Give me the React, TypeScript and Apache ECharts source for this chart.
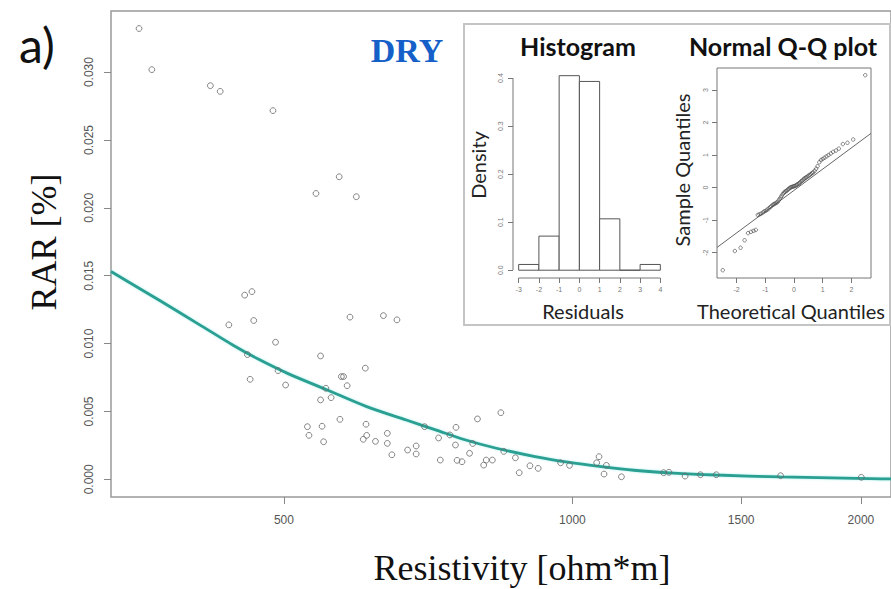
import React, { useEffect, useRef } from "react";
import * as echarts from "echarts";

// ---- main scatter (DRY) ----
const xTicks = [500, 1000, 1500, 2000];
const yTicks = [0, 0.005, 0.01, 0.015, 0.02, 0.025, 0.03];

const resistivity = [
  353, 364, 419, 429, 487, 540, 571, 595, 455, 463,
  438, 465, 490, 458, 493, 461, 502, 546, 586, 635,
  656, 608, 574, 577, 582, 553, 560, 546, 529, 531,
  548, 550, 572, 609, 610, 605, 623, 641, 641, 648,
  673, 687, 687, 701, 725, 728, 745, 756, 755, 758,
  767, 781, 787, 796, 842, 808, 813, 825, 848, 872,
  880, 903, 921, 972, 993, 1066, 1060, 1085, 1079, 1125,
  1245, 1261, 1311, 1360, 1413, 1649, 2002,
];
const rar = [
  0.03321, 0.03018, 0.029, 0.02858, 0.02716, 0.02106, 0.02229, 0.02082, 0.01357, 0.01383,
  0.01138, 0.0117, 0.0101, 0.00919, 0.00801, 0.00737, 0.00695, 0.00909, 0.01195, 0.01206,
  0.01175, 0.00819, 0.00757, 0.00757, 0.0069, 0.00671, 0.00602, 0.00585, 0.00388, 0.00324,
  0.00391, 0.00277, 0.00442, 0.00406, 0.00324, 0.00295, 0.0028, 0.00339, 0.00265, 0.00181,
  0.00216, 0.00246, 0.00187, 0.00388, 0.00305, 0.00142, 0.00327, 0.00383, 0.00253, 0.0014,
  0.0013, 0.00192, 0.00264, 0.00445, 0.00491, 0.00105, 0.00142, 0.00142, 0.00206, 0.00159,
  0.00049, 0.001, 0.00081, 0.00122, 0.00103, 0.00167, 0.00122, 0.00103, 0.00039, 0.00019,
  0.00049, 0.00052, 0.00024, 0.00034, 0.00034, 0.00027, 0.00015,
];

const fitResistivity = [330, 371, 408, 443, 470, 505, 555, 610, 671, 721, 774, 831, 914, 989, 1072, 1159, 1275, 1412, 1648, 2104, 2150];
const fitRar = [0.01531, 0.01317, 0.0114, 0.00986, 0.00886, 0.00779, 0.00658, 0.00536, 0.00437, 0.00363, 0.0029, 0.00231, 0.00168, 0.00127, 0.00094, 0.00067, 0.00046, 0.00032, 0.00018, 0.00004, 0.00003];

// ---- inset histogram ----
const histBinStart = [-3, -2, -1, 0, 1, 2, 3];
const histBinEnd = [-2, -1, 0, 1, 2, 3, 4];
const histDensity = [0.012, 0.071, 0.405, 0.393, 0.107, 0, 0.012];
const histTicksX = [-3, -2, -1, 0, 1, 2, 3, 4];
const histTicksY = [0, 0.1, 0.2, 0.3, 0.4];

// ---- inset Q-Q plot ----
const qqTheoretical = [
  -2.48, -2.06, -1.86, -1.72, -1.6, -1.5, -1.41, -1.33, -1.26, -1.2,
  -1.14, -1.08, -1.03, -0.98, -0.93, -0.88, -0.83, -0.79, -0.74, -0.7,
  -0.66, -0.62, -0.58, -0.54, -0.5, -0.46, -0.43, -0.39, -0.35, -0.32,
  -0.28, -0.25, -0.21, -0.18, -0.14, -0.11, -0.08, -0.04, -0.01, 0.02,
  0.06, 0.09, 0.12, 0.16, 0.19, 0.22, 0.26, 0.29, 0.33, 0.36,
  0.4, 0.43, 0.47, 0.51, 0.55, 0.59, 0.63, 0.67, 0.72, 0.77,
  0.82, 0.88, 0.94, 1.0, 1.06, 1.13, 1.2, 1.28, 1.36, 1.46,
  1.56, 1.7, 1.86, 2.06, 2.48,
];
const qqSample = [
  -2.54, -1.95, -1.85, -1.62, -1.4, -1.36, -1.33, -1.3, -0.84, -0.82,
  -0.8, -0.76, -0.73, -0.71, -0.68, -0.64, -0.6, -0.57, -0.53, -0.51,
  -0.49, -0.47, -0.45, -0.4, -0.35, -0.3, -0.25, -0.2, -0.16, -0.13,
  -0.11, -0.09, -0.06, -0.03, -0.01, 0.01, 0.02, 0.03, 0.04, 0.05,
  0.06, 0.08, 0.1, 0.12, 0.14, 0.17, 0.2, 0.22, 0.25, 0.28,
  0.3, 0.32, 0.34, 0.37, 0.39, 0.42, 0.45, 0.47, 0.52, 0.58,
  0.66, 0.78, 0.85, 0.88, 0.92, 0.96, 1.0, 1.05, 1.1, 1.14,
  1.2, 1.34, 1.38, 1.48, 3.46,
];
const qqLineX = [-2.68, 2.68];
const qqLineY = [-1.84, 1.67];
const qqTicksX = [-2, -1, 0, 1, 2];
const qqTicksY = [-2, -1, 0, 1, 2, 3];

const SANS = "Liberation Sans";
const SERIF = "Liberation Serif";
const INSET = "Lato";

export default function App() {
  const ref = useRef<HTMLDivElement>(null);
  useEffect(() => {
    if (!ref.current) return;
    const chart = echarts.init(ref.current, undefined, { renderer: "svg" });

    const smallLabel = { fontSize: 7, color: "#777", fontFamily: SANS };
    const smallTick = { lineStyle: { color: "#777", width: 1 } };

    const option: any = {
      animation: false,
      backgroundColor: "#fff",
      grid: [
        { left: 111, top: 11, width: 789, height: 486, show: true, borderColor: "#999", borderWidth: 1.5, backgroundColor: "transparent" },
        { left: 513, top: 68, width: 153, height: 210, show: false, z: 10 },
        { left: 717, top: 68, width: 154, height: 210, show: true, borderColor: "#777", borderWidth: 1, backgroundColor: "transparent", z: 10 },
      ],
      xAxis: [
        {
          type: "log", gridIndex: 0, min: 330, max: 2150, logBase: 10,
          axisLine: { show: false, onZero: false },
          axisTick: { show: true, length: 7, customValues: xTicks, lineStyle: { color: "#888" } },
          axisLabel: { customValues: xTicks, margin: 17, fontSize: 12, color: "#555", fontFamily: SANS, formatter: (v: number) => String(Math.round(v)) },
          splitLine: { show: false }, minorTick: { show: false },
        },
        {
          type: "value", gridIndex: 1, min: -3.28, max: 4.28, z: 10,
          axisLine: { show: false, onZero: false },
          axisTick: { show: true, length: 5, customValues: histTicksX, ...smallTick },
          axisLabel: { customValues: histTicksX, margin: 8, ...smallLabel, formatter: (v: number) => String(v) },
          splitLine: { show: false },
        },
        {
          type: "value", gridIndex: 2, min: -2.68, max: 2.68, z: 10,
          axisLine: { show: false, onZero: false },
          axisTick: { show: true, length: 5, customValues: qqTicksX, ...smallTick },
          axisLabel: { customValues: qqTicksX, margin: 8, ...smallLabel, formatter: (v: number) => String(v) },
          splitLine: { show: false },
        },
      ],
      yAxis: [
        {
          type: "value", gridIndex: 0, min: -0.0013, max: 0.0345,
          axisLine: { show: false, onZero: false },
          axisTick: { show: true, length: 7, customValues: yTicks, lineStyle: { color: "#888" } },
          axisLabel: { customValues: yTicks, rotate: 90, margin: 16, fontSize: 12, color: "#555", fontFamily: SANS, formatter: (v: number) => v.toFixed(3) },
          splitLine: { show: false },
        },
        {
          type: "value", gridIndex: 1, min: -0.0162, max: 0.421, z: 10,
          axisLine: { show: false, onZero: false },
          axisTick: { show: true, length: 5, customValues: histTicksY, ...smallTick },
          axisLabel: { customValues: histTicksY, rotate: 90, margin: 9, ...smallLabel, formatter: (v: number) => v.toFixed(1) },
          splitLine: { show: false },
        },
        {
          type: "value", gridIndex: 2, min: -2.78, max: 3.68, z: 10,
          axisLine: { show: false, onZero: false },
          axisTick: { show: true, length: 5, customValues: qqTicksY, ...smallTick },
          axisLabel: { customValues: qqTicksY, rotate: 90, margin: 8, ...smallLabel, formatter: (v: number) => String(v) },
          splitLine: { show: false },
        },
      ],
      series: [
        {
          type: "line", xAxisIndex: 0, yAxisIndex: 0, z: 2, smooth: 0.3, showSymbol: false, silent: true,
          data: fitResistivity.map((x, i) => [x, fitRar[i]]),
          lineStyle: { color: "#2a9f92", width: 2.8, shadowColor: "rgba(80,220,210,0.5)", shadowBlur: 2 },
        },
        {
          type: "scatter", xAxisIndex: 0, yAxisIndex: 0, z: 3, symbol: "circle", symbolSize: 5.8, silent: true,
          data: resistivity.map((x, i) => [x, rar[i]]),
          itemStyle: { color: "rgba(0,0,0,0)", borderColor: "#666", borderWidth: 1 },
        },
        {
          type: "custom", xAxisIndex: 1, yAxisIndex: 1, z: 10, silent: true,
          data: histBinStart.map((s, i) => [s, histBinEnd[i], histDensity[i]]),
          encode: { x: [0, 1], y: 2 },
          renderItem: (params: any, api: any) => {
            const p0 = api.coord([api.value(0), api.value(2)]);
            const p1 = api.coord([api.value(1), 0]);
            return {
              type: "rect",
              shape: { x: p0[0], y: p0[1], width: p1[0] - p0[0], height: p1[1] - p0[1] },
              style: { fill: "#fff", stroke: "#555", lineWidth: 1 },
            };
          },
        },
        {
          type: "line", xAxisIndex: 1, yAxisIndex: 1, z: 10, silent: true, clip: false, showSymbol: false,
          data: [[histTicksX[0], -0.0162], [histTicksX[histTicksX.length - 1], -0.0162]],
          lineStyle: { color: "#777", width: 1 },
        },
        {
          type: "line", xAxisIndex: 1, yAxisIndex: 1, z: 10, silent: true, clip: false, showSymbol: false,
          data: [[-3.28, histTicksY[0]], [-3.28, histTicksY[histTicksY.length - 1]]],
          lineStyle: { color: "#777", width: 1 },
        },
        {
          type: "line", xAxisIndex: 2, yAxisIndex: 2, z: 10, silent: true, showSymbol: false,
          data: qqLineX.map((x, i) => [x, qqLineY[i]]),
          lineStyle: { color: "#666", width: 1 },
        },
        {
          type: "scatter", xAxisIndex: 2, yAxisIndex: 2, z: 11, symbol: "circle", symbolSize: 3.5, silent: true,
          data: qqTheoretical.map((x, i) => [x, qqSample[i]]),
          itemStyle: { color: "rgba(0,0,0,0)", borderColor: "#444", borderWidth: 0.8 },
        },
      ],
      graphic: [
        { type: "rect", z: 5, shape: { x: 464, y: 24, width: 426, height: 301 }, style: { fill: "#fff", stroke: "#c4c4c4", lineWidth: 2 } },
        { type: "text", z: 12, x: 19, y: 44, style: { text: "a)", font: `48px ${INSET}`, fill: "#111", textAlign: "left", textVerticalAlign: "middle" } },
        { type: "text", z: 12, x: 407, y: 50, style: { text: "DRY", font: `bold 34px ${SERIF}`, fill: "#1560c8", textAlign: "center", textVerticalAlign: "middle" } },
        { type: "text", z: 12, x: 44, y: 242, rotation: Math.PI / 2, style: { text: "RAR [%]", font: `36px ${SERIF}`, fill: "#111", textAlign: "center", textVerticalAlign: "middle" } },
        { type: "text", z: 12, x: 522, y: 568, style: { text: "Resistivity [ohm*m]", font: `36px ${SERIF}`, fill: "#111", textAlign: "center", textVerticalAlign: "middle" } },
        { type: "text", z: 12, x: 578, y: 46, style: { text: "Histogram", font: `bold 25px ${INSET}`, fill: "#111", textAlign: "center", textVerticalAlign: "middle" } },
        { type: "text", z: 12, x: 783, y: 46, style: { text: "Normal Q-Q plot", font: `bold 25px ${INSET}`, fill: "#111", textAlign: "center", textVerticalAlign: "middle" } },
        { type: "text", z: 12, x: 478, y: 165, rotation: Math.PI / 2, style: { text: "Density", font: `20px ${INSET}`, fill: "#222", textAlign: "center", textVerticalAlign: "middle" } },
        { type: "text", z: 12, x: 583, y: 311, style: { text: "Residuals", font: `20px ${INSET}`, fill: "#222", textAlign: "center", textVerticalAlign: "middle" } },
        { type: "text", z: 12, x: 682, y: 170, rotation: Math.PI / 2, style: { text: "Sample Quantiles", font: `20px ${INSET}`, fill: "#222", textAlign: "center", textVerticalAlign: "middle" } },
        { type: "text", z: 12, x: 791, y: 311, style: { text: "Theoretical Quantiles", font: `20px ${INSET}`, fill: "#222", textAlign: "center", textVerticalAlign: "middle" } },
      ],
    };
    chart.setOption(option);
    return () => chart.dispose();
  }, []);
  return <div ref={ref} style={{ position: "fixed", left: 0, top: 0, width: 891, height: 589, background: "#fff" }} />;
}
